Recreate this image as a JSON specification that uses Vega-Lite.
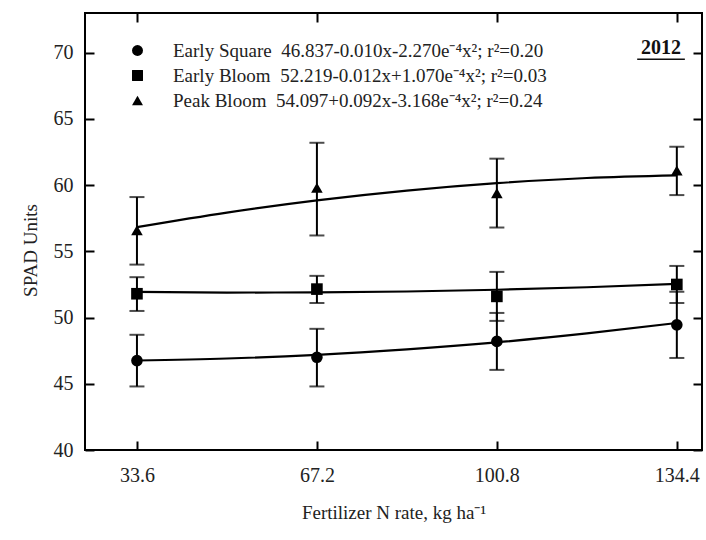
{
  "$schema": "https://vega.github.io/schema/vega-lite/v6.json",
  "autosize": "none",
  "width": 617,
  "height": 437,
  "padding": {"left": 85, "top": 13, "right": 4, "bottom": 90},
  "background": "white",
  "config": {
    "view": {"stroke": "#000", "strokeWidth": 2},
    "font": "Liberation Serif, Times New Roman, serif",
    "axis": {
      "domain": false,
      "grid": false,
      "tickColor": "#000",
      "tickWidth": 2,
      "tickSize": -9,
      "labelFont": "Liberation Serif, Times New Roman, serif",
      "labelFontSize": 20,
      "labelColor": "#222",
      "titleFont": "Liberation Serif, Times New Roman, serif",
      "titleFontSize": 19,
      "titleFontWeight": "normal",
      "titleColor": "#222"
    }
  },
  "datasets": {
    "obs": [
      {"rate": 33.6, "series": "Early Square", "mean": 46.75, "lo": 44.8, "hi": 48.7},
      {"rate": 67.2, "series": "Early Square", "mean": 47.0, "lo": 44.8, "hi": 49.15},
      {"rate": 100.8, "series": "Early Square", "mean": 48.2, "lo": 46.05, "hi": 50.35},
      {"rate": 134.4, "series": "Early Square", "mean": 49.45, "lo": 46.95, "hi": 51.95},
      {"rate": 33.6, "series": "Early Bloom", "mean": 51.8, "lo": 50.5, "hi": 53.05},
      {"rate": 67.2, "series": "Early Bloom", "mean": 52.15, "lo": 51.1, "hi": 53.15},
      {"rate": 100.8, "series": "Early Bloom", "mean": 51.6, "lo": 49.75, "hi": 53.45},
      {"rate": 134.4, "series": "Early Bloom", "mean": 52.5, "lo": 51.1, "hi": 53.9},
      {"rate": 33.6, "series": "Peak Bloom", "mean": 56.6, "lo": 54.0, "hi": 59.1},
      {"rate": 67.2, "series": "Peak Bloom", "mean": 59.8, "lo": 56.2, "hi": 63.2},
      {"rate": 100.8, "series": "Peak Bloom", "mean": 59.4, "lo": 56.8, "hi": 62.0},
      {"rate": 134.4, "series": "Peak Bloom", "mean": 61.1, "lo": 59.25, "hi": 62.9}
    ],
    "fit": [
      {"rate": 33.6, "series": "Early Square", "spad": 46.76},
      {"rate": 50.4, "series": "Early Square", "spad": 46.91},
      {"rate": 67.2, "series": "Early Square", "spad": 47.19},
      {"rate": 84.0, "series": "Early Square", "spad": 47.6},
      {"rate": 100.8, "series": "Early Square", "spad": 48.13},
      {"rate": 117.6, "series": "Early Square", "spad": 48.8},
      {"rate": 134.4, "series": "Early Square", "spad": 49.59},
      {"rate": 33.6, "series": "Early Bloom", "spad": 51.94},
      {"rate": 50.4, "series": "Early Bloom", "spad": 51.89},
      {"rate": 67.2, "series": "Early Bloom", "spad": 51.9},
      {"rate": 84.0, "series": "Early Bloom", "spad": 51.97},
      {"rate": 100.8, "series": "Early Bloom", "spad": 52.1},
      {"rate": 117.6, "series": "Early Bloom", "spad": 52.29},
      {"rate": 134.4, "series": "Early Bloom", "spad": 52.54},
      {"rate": 33.6, "series": "Peak Bloom", "spad": 56.83},
      {"rate": 50.4, "series": "Peak Bloom", "spad": 57.93},
      {"rate": 67.2, "series": "Peak Bloom", "spad": 58.85},
      {"rate": 84.0, "series": "Peak Bloom", "spad": 59.59},
      {"rate": 100.8, "series": "Peak Bloom", "spad": 60.15},
      {"rate": 117.6, "series": "Peak Bloom", "spad": 60.54},
      {"rate": 134.4, "series": "Peak Bloom", "spad": 60.74}
    ]
  },
  "resolve": {"axis": {"x": "independent", "y": "independent"}},
  "layer": [
    {
      "data": {"name": "fit"},
      "mark": {"type": "line", "color": "#000", "strokeWidth": 2.2, "interpolate": "monotone"},
      "encoding": {
        "x": {"field": "rate", "type": "quantitative", "scale": {"domain": [23.9, 139.1], "nice": false, "zero": false},
          "axis": {"orient": "bottom", "values": [33.6, 67.2, 100.8, 134.4], "format": ".1f", "labelPadding": 24,
            "title": "Fertilizer N rate, kg ha⁻¹", "titleY": 68, "titleBaseline": "alphabetic"}},
        "y": {"field": "spad", "type": "quantitative", "scale": {"domain": [40, 73], "nice": false, "zero": false},
          "axis": {"orient": "left", "values": [40, 45, 50, 55, 60, 65, 70], "labelPadding": 21,
            "title": "SPAD Units", "titleX": -55, "titleY": 237, "titleAlign": "center", "titleBaseline": "middle"}},
        "detail": {"field": "series"}
      }
    },
    {
      "data": {"name": "obs"},
      "mark": {"type": "rule", "color": "#000", "strokeWidth": 2},
      "encoding": {
        "x": {"field": "rate", "type": "quantitative", "scale": {"domain": [23.9, 139.1], "nice": false, "zero": false},
          "axis": {"orient": "top", "values": [33.6, 67.2, 100.8, 134.4], "labels": false, "title": null}},
        "y": {"field": "lo", "type": "quantitative", "scale": {"domain": [40, 73], "nice": false, "zero": false},
          "axis": {"orient": "right", "values": [40, 45, 50, 55, 60, 65, 70], "labels": false, "title": null}},
        "y2": {"field": "hi"}
      }
    },
    {
      "data": {"name": "obs"},
      "mark": {"type": "tick", "color": "#000", "thickness": 2, "size": 15, "orient": "horizontal"},
      "encoding": {
        "x": {"field": "rate", "type": "quantitative", "scale": {"domain": [23.9, 139.1], "nice": false, "zero": false}, "axis": null},
        "y": {"field": "lo", "type": "quantitative", "scale": {"domain": [40, 73], "nice": false, "zero": false}, "axis": null}
      }
    },
    {
      "data": {"name": "obs"},
      "mark": {"type": "tick", "color": "#000", "thickness": 2, "size": 15, "orient": "horizontal"},
      "encoding": {
        "x": {"field": "rate", "type": "quantitative", "scale": {"domain": [23.9, 139.1], "nice": false, "zero": false}, "axis": null},
        "y": {"field": "hi", "type": "quantitative", "scale": {"domain": [40, 73], "nice": false, "zero": false}, "axis": null}
      }
    },
    {
      "data": {"name": "obs"},
      "mark": {"type": "point", "filled": true, "color": "#000", "opacity": 1, "size": 135},
      "encoding": {
        "x": {"field": "rate", "type": "quantitative", "scale": {"domain": [23.9, 139.1], "nice": false, "zero": false}, "axis": null},
        "y": {"field": "mean", "type": "quantitative", "scale": {"domain": [40, 73], "nice": false, "zero": false}, "axis": null},
        "shape": {"field": "series", "type": "nominal",
          "scale": {"domain": ["Early Square", "Early Bloom", "Peak Bloom"], "range": ["circle", "square", "triangle-up"]},
          "legend": {
            "orient": "none", "legendX": 43, "legendY": 28, "title": null, "padding": 0,
            "symbolSize": 120, "symbolFillColor": "#000", "symbolStrokeColor": "#000", "symbolOpacity": 1,
            "labelFont": "Liberation Serif, Times New Roman, serif", "labelFontSize": 19, "labelColor": "#222", "labelLimit": 700,
            "labelOffset": 26, "rowPadding": 5,
            "labelExpr": "datum.label == 'Early Square' ? 'Early Square\u00a0\u00a046.837-0.010x-2.270e⁻⁴x²; r²=0.20' : datum.label == 'Early Bloom' ? 'Early Bloom\u00a0\u00a052.219-0.012x+1.070e⁻⁴x²; r²=0.03' : 'Peak Bloom\u00a0\u00a054.097+0.092x-3.168e⁻⁴x²; r²=0.24'"
          }
        }
      }
    },
    {
      "data": {"values": [{}]},
      "mark": {"type": "text", "text": "2012", "font": "Liberation Serif, Times New Roman, serif", "fontSize": 20, "fontWeight": "bold", "color": "#111", "baseline": "middle", "align": "center"},
      "encoding": {
        "x": {"datum": 131.45, "type": "quantitative", "scale": {"domain": [23.9, 139.1], "nice": false, "zero": false}, "axis": null},
        "y": {"datum": 70.39, "type": "quantitative", "scale": {"domain": [40, 73], "nice": false, "zero": false}, "axis": null}
      }
    },
    {
      "data": {"values": [{}]},
      "mark": {"type": "rule", "color": "#111", "strokeWidth": 1.5},
      "encoding": {
        "x": {"datum": 127.0, "type": "quantitative", "scale": {"domain": [23.9, 139.1], "nice": false, "zero": false}, "axis": null},
        "x2": {"datum": 135.9},
        "y": {"datum": 69.5, "type": "quantitative", "scale": {"domain": [40, 73], "nice": false, "zero": false}, "axis": null}
      }
    }
  ]
}
